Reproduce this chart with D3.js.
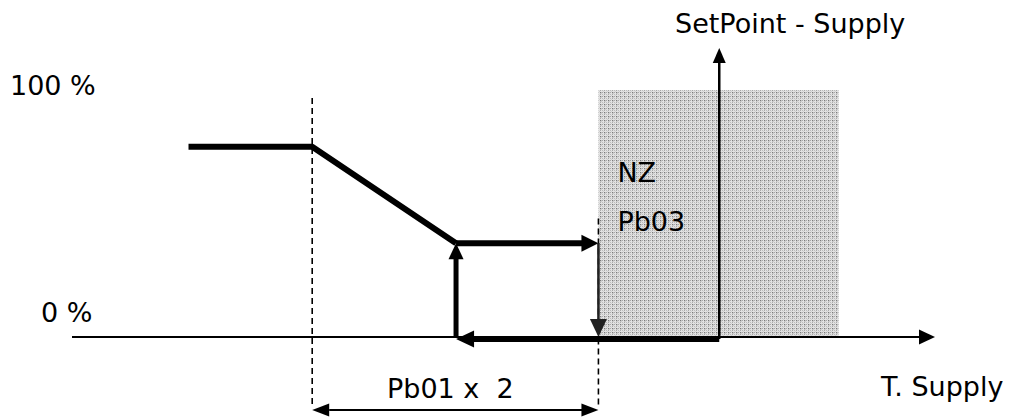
<!DOCTYPE html>
<html lang="en">
<head>
  <meta charset="UTF-8">
  <title>SetPoint - Supply</title>
  <style>
    body { margin: 0; background: #fff; }
    text { font-family: 'DejaVu Sans', Verdana, sans-serif; font-size: 27px; fill: #000; white-space: pre; }
  </style>
</head>
<body>
<div id="chart"></div>
<script src="https://cdn.jsdelivr.net/npm/d3@7"></script>
<script>
// x in Pb01 units, 0 = setpoint ; y in %
let curveX = [-3.69, -2.83, -1.83]
let curveY = [77, 77, 38]
let loopRight = [[-1.83, 38], [-0.84, 38]]
let loopDown = [[-0.84, 38], [-0.84, 0]]
let loopLeft = [[0, -0.8], [-1.83, -0.8]]
let loopUp = [[-1.83, 0], [-1.83, 38]]
let setPoint = 0
let nzBand = [-0.84, 0.83]
let pbBand = [-2.83, -0.84]
let yLabels = [[100, '100 %'], [0, '0 %']]

let width = 1012
let height = 420
let svg = d3.select('#chart').append('svg').attr('width', width).attr('height', height)

let x = d3.scaleLinear().domain([-4.5, 1.5]).range([72, 935])
let y = d3.scaleLinear().domain([0, 100]).range([337, 90])

// hatched pattern for the neutral zone
let defs = svg.append('defs')
let pat = defs.append('pattern').attr('id', 'hatch').attr('patternUnits', 'userSpaceOnUse')
  .attr('width', 4).attr('height', 4)
pat.append('rect').attr('width', 4).attr('height', 4).attr('fill', '#e2e2e2')
let dots = [[0, 0, '#7a7a7a'], [2, 0, '#a8a8a8'], [0, 2, '#a8a8a8'], [2, 2, '#bdbdbd'], [1, 1, '#cccccc'], [3, 3, '#d0d0d0'], [1, 0, '#c4c4c4'], [0, 1, '#c4c4c4']]
dots.forEach(d => {
  pat.append('rect').attr('x', d[0]).attr('y', d[1]).attr('width', 1).attr('height', 1).attr('fill', d[2])
})

svg.append('rect')
  .attr('x', x(nzBand[0])).attr('y', y(100))
  .attr('width', x(nzBand[1]) - x(nzBand[0])).attr('height', y(0) - y(100))
  .attr('fill', 'url(#hatch)')

// arrow helper, pixel points
function arrow (p0, p1, o) {
  let dx = p1[0] - p0[0], dy = p1[1] - p0[1]
  let L = Math.hypot(dx, dy), ux = dx / L, uy = dy / L
  let a = o.both ? [p0[0] + ux * o.len, p0[1] + uy * o.len] : p0
  let b = [p1[0] - ux * o.len * 0.9, p1[1] - uy * o.len * 0.9]
  svg.append('line')
    .attr('x1', a[0]).attr('y1', a[1]).attr('x2', b[0]).attr('y2', b[1])
    .attr('stroke', o.color || '#000').attr('stroke-width', o.w)
  head(p1, ux, uy, o)
  if (o.both) head(p0, -ux, -uy, o)
}
function head (tip, ux, uy, o) {
  let bx = tip[0] - ux * o.len, by = tip[1] - uy * o.len
  let pts = [tip, [bx - uy * o.half, by + ux * o.half], [bx + uy * o.half, by - ux * o.half]]
  svg.append('path').attr('d', 'M' + pts.join('L') + 'Z').attr('fill', o.color || '#000')
}

// x axis
arrow([x(-4.5), y(0)], [x(1.5), y(0)], { w: 1.8, len: 16, half: 7.5 })

// setpoint axis
arrow([x(setPoint), y(-0.8)], [x(setPoint), y(117)], { w: 2.5, len: 15, half: 6.5 })

// dashed guides
svg.append('line')
  .attr('x1', x(pbBand[0])).attr('x2', x(pbBand[0])).attr('y1', y(96.8)).attr('y2', y(-28.7))
  .attr('stroke', '#000').attr('stroke-width', 1.6).attr('stroke-dasharray', '6,4')
svg.append('line')
  .attr('x1', x(pbBand[1])).attr('x2', x(pbBand[1])).attr('y1', y(48)).attr('y2', y(-28.7))
  .attr('stroke', '#000').attr('stroke-width', 1.6).attr('stroke-dasharray', '6,4')

// response curve
let line = d3.line().x(d => x(d[0])).y(d => y(d[1]))
svg.append('path')
  .attr('d', line(curveX.map((v, i) => [v, curveY[i]])))
  .attr('fill', 'none').attr('stroke', '#000').attr('stroke-width', 6)
  .attr('stroke-linejoin', 'round')

// hysteresis loop
let px = p => [x(p[0]), y(p[1])]
arrow(px(loopRight[0]), px(loopRight[1]), { w: 6, len: 17, half: 8.5 })
arrow(px(loopDown[0]), px(loopDown[1]), { w: 2.5, len: 18, half: 8.5, color: '#222' })
arrow(px(loopLeft[0]), px(loopLeft[1]), { w: 6, len: 18, half: 8.5 })
arrow(px(loopUp[0]), px(loopUp[1]), { w: 5, len: 16, half: 7.5 })

// Pb01 x 2 span
arrow([x(pbBand[0]), y(-29.6)], [x(pbBand[1]), y(-29.6)], { w: 2, len: 17, half: 6.5, both: true })

// labels
svg.selectAll('.ylab').data(yLabels).enter().append('text')
  .attr('class', 'ylab')
  .attr('x', d => d[0] === 100 ? 10 : 41)
  .attr('y', d => y(d[0]) + (d[0] === 100 ? 5 : -15))
  .text(d => d[1])
svg.append('text').attr('x', 675).attr('y', 33).text('SetPoint - Supply')
svg.append('text').attr('x', x(nzBand[0]) + 19).attr('y', 182).text('NZ')
svg.append('text').attr('x', x(nzBand[0]) + 19).attr('y', 231).text('Pb03')
svg.append('text').attr('x', 387).attr('y', 398).text('Pb01 x  2')
svg.append('text').attr('x', 881).attr('y', 396).text('T. Supply')
</script>
</body>
</html>
